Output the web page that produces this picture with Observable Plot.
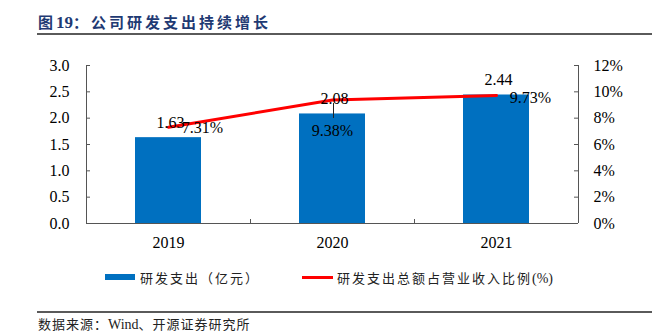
<!DOCTYPE html>
<html>
<head>
<meta charset="utf-8">
<script src="https://cdn.jsdelivr.net/npm/d3@7"></script>
<script src="https://cdn.jsdelivr.net/npm/@observablehq/plot@0.6"></script>
<style>
  html, body { margin: 0; padding: 0; background: #fff; }
  #wrap { position: relative; width: 652px; height: 336px; overflow: hidden; font-family: "Noto Sans CJK SC", sans-serif; }
  #title { position: absolute; left: 38px; top: 11px; font-size: 15px; font-weight: bold; color: #1F3A73; letter-spacing: 3px; white-space: nowrap; line-height: 22px; }
  #title .num { font-family: "Liberation Serif", serif; letter-spacing: 0; font-size: 17px; }
  #tline { position: absolute; left: 37px; right: 0; top: 33px; height: 2px; background: #5a5a5a; }
  #chart { position: absolute; left: 0; top: 50px; }
  #chart svg, #chart svg text { font-family: "Liberation Serif", "Times New Roman", serif !important; }
  .leg { position: absolute; top: 267px; height: 20px; display: flex; align-items: center; font-size: 13px; color: #222; letter-spacing: 2px; white-space: nowrap; }
  .sw-bar { width: 30px; height: 6px; background: #0070C0; margin-right: 5px; }
  .sw-line { width: 31px; height: 3px; background: #FF0000; margin-right: 4px; }
  #bline { position: absolute; left: 37px; right: 0; top: 311px; height: 2px; background: #5a5a5a; }
  #source { position: absolute; left: 38px; top: 315px; font-size: 13px; color: #222; letter-spacing: 1px; white-space: nowrap; line-height: 18px; }
  #source .lat { font-family: "Liberation Serif", serif; font-size: 14px; letter-spacing: 0; }
</style>
</head>
<body>
<div id="wrap">
  <div id="title">图<span class="num">19</span>：公司研发支出持续增长</div>
  <div id="tline"></div>
  <div id="chart"></div>
  <div class="leg" style="left:105px"><div class="sw-bar"></div><span>研发支出（亿元）</span></div>
  <div class="leg" style="left:302px"><div class="sw-line"></div><span>研发支出总额占营业收入比例<span style="letter-spacing:0;font-family:'Liberation Serif',serif;font-size:14px">(%)</span></span></div>
  <div id="bline"></div>
  <div id="source">数据来源：<span class="lat">Wind</span>、开源证券研究所</div>
</div>
<script>
// ---- data ----
const years = ["2019", "2020", "2021"];
const rdSpend = [1.63, 2.08, 2.44];          // 亿元
const rdRatio = [7.31, 9.38, 9.73];          // %
const leftTicks = [0, 0.5, 1.0, 1.5, 2.0, 2.5, 3.0];
const rightTickLabels = ["0%", "2%", "4%", "6%", "8%", "10%", "12%"];

const rows = years.map((y, i) => ({year: y, spend: rdSpend[i], ratio: rdRatio[i], i}));

const W = 652, H = 210, mL = 86, mR = 74, mT = 15, mB = 37;
const plotW = W - mL - mR, plotH = H - mT - mB;
const step = plotW / years.length;
const serif = "Liberation Serif";
const axisColor = "#555";
// right axis maps 0–12% onto the left domain 0–3
const ratioToLeft = v => v / 4;

const pctOffsets = [{dx: 34, dy: 1}, {dx: 0, dy: 31}, {dx: 34, dy: 2}];

const plot = Plot.plot({
  width: W, height: H,
  marginLeft: mL, marginRight: mR, marginTop: mT, marginBottom: mB,
  style: {fontSize: "16px", color: "#000", background: "transparent", overflow: "visible"},
  x: {type: "band", domain: years, paddingInner: 0.6, paddingOuter: 0.3, label: null},
  y: {domain: [0, 3], label: null},
  marks: [
    Plot.barY(rows, {x: "year", y: "spend", fill: "#0070C0"}),
    // axis lines
    Plot.ruleX([years[0]], {x: d => d, dx: -step / 2, stroke: axisColor, strokeWidth: 1}),
    Plot.ruleX([years[years.length - 1]], {x: d => d, dx: step / 2, stroke: axisColor, strokeWidth: 1}),
    Plot.ruleY([0], {stroke: axisColor, strokeWidth: 1.2}),
    // inward ticks
    Plot.ruleY(leftTicks, {y: d => d, insetRight: plotW - 4, stroke: axisColor}),
    Plot.ruleY(leftTicks, {y: d => d, insetLeft: plotW - 4, stroke: axisColor}),
    Plot.ruleX(years.slice(1), {x: d => d, dx: -step / 2, insetTop: plotH - 4, stroke: axisColor}),
    // axes labels
    Plot.axisY(leftTicks, {anchor: "left", tickSize: 0, tickPadding: 17, tickFormat: d3.format(".1f"), fontSize: 16}),
    Plot.axisY(leftTicks, {anchor: "right", tickSize: 0, tickPadding: 15, tickFormat: d => rightTickLabels[leftTicks.indexOf(d)], fontSize: 16}),
    Plot.axisX({tickSize: 0, tickPadding: 13, fontSize: 16}),
    // ratio line
    Plot.line(rows, {x: "year", y: d => ratioToLeft(d.ratio), stroke: "#FF0000", strokeWidth: 3}),
    // leader line for 2020 label
    Plot.ruleX(rows.filter(d => d.i === 1), {x: "year", dx: 1, y1: "spend", y2: "spend", insetTop: -10.5, insetBottom: -4.5, stroke: "#222", strokeWidth: 1}),
    // bar value labels
    Plot.text(rows, {x: "year", y: "spend", text: d => d.spend.toFixed(2), dx: 2, dy: -15, fontSize: 16, fill: "#000"}),
    // ratio labels
    ...pctOffsets.map((o, k) =>
      Plot.text(rows.filter(d => d.i === k), {x: "year", y: d => ratioToLeft(d.ratio), text: d => d.ratio.toFixed(2) + "%", dx: o.dx, dy: o.dy, fontSize: 16, fill: "#000"})
    )
  ]
});
document.getElementById("chart").appendChild(plot);
</script>
</body>
</html>
